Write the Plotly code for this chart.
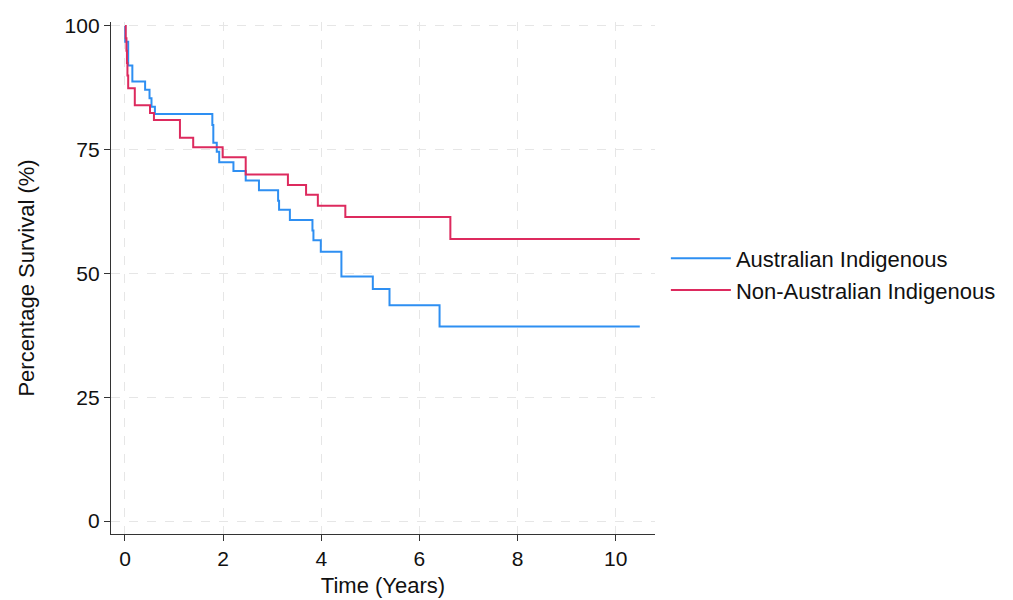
import plotly.graph_objects as go

# Australian Indigenous (blue) Kaplan-Meier steps
ai_time = [0.0, 0.005, 0.065, 0.15, 0.41, 0.50, 0.54, 0.61, 1.78, 1.80, 1.87, 1.92,
           2.21, 2.46, 2.73, 3.12, 3.14, 3.36, 3.82, 3.84, 3.99, 4.41, 5.05, 5.39,
           6.41, 10.49]
ai_surv = [100, 96.8, 92.0, 88.8, 87.1, 85.4, 83.7, 82.2, 80.0, 76.4, 74.6, 72.5,
           70.7, 68.8, 66.8, 64.7, 62.9, 60.8, 58.7, 56.7, 54.4, 49.4, 46.9, 43.6,
           39.3, 39.3]

# Non-Australian Indigenous (red) Kaplan-Meier steps
nai_time = [0.0, 0.015, 0.03, 0.04, 0.05, 0.065, 0.20, 0.51, 0.59, 1.12, 1.39, 1.99,
            2.46, 3.32, 3.69, 3.93, 4.49, 6.63, 10.49]
nai_surv = [100, 97.5, 95.0, 92.5, 90.0, 87.4, 84.0, 82.4, 81.0, 77.4, 75.5, 73.5,
            70.0, 67.9, 65.9, 63.7, 61.4, 57.0, 57.0]

x_ticks = [0, 2, 4, 6, 8, 10]
y_ticks = [0, 25, 50, 75, 100]

FONT = "Liberation Sans, Arial, Helvetica, sans-serif"
BLUE = "#2E8FF2"
RED = "#DD2A5E"
TXT = "#111111"

fig = go.Figure()
fig.add_trace(go.Scatter(x=ai_time, y=ai_surv, mode="lines", line_shape="hv",
                         name="Australian Indigenous",
                         line=dict(color=BLUE, width=2)))
fig.add_trace(go.Scatter(x=nai_time, y=nai_surv, mode="lines", line_shape="hv",
                         name="Non-Australian Indigenous",
                         line=dict(color=RED, width=2)))

axis_common = dict(
    showline=True, linecolor="#333333", linewidth=1.3,
    ticks="outside", ticklen=6, tickcolor="#333333", tickwidth=1.3,
    showgrid=True, gridcolor="#E6E6E6", griddash="dash", gridwidth=1.3,
    zeroline=False, mirror=False, automargin=False,
    tickfont=dict(family=FONT, size=21, color=TXT),
)

fig.update_xaxes(range=[-0.285, 10.8], tickvals=x_ticks,
                 title=dict(text="Time (Years)", font=dict(family=FONT, size=22, color=TXT),
                            standoff=8),
                 **axis_common)
fig.update_yaxes(range=[-2.6, 100.8], tickvals=y_ticks,
                 title=dict(text="Percentage Survival (%)", font=dict(family=FONT, size=22, color=TXT),
                            standoff=23),
                 **axis_common)

fig.update_layout(
    width=1013, height=600,
    margin=dict(l=103, r=366, t=14, b=74),
    plot_bgcolor="white", paper_bgcolor="white",
    font=dict(family=FONT, size=21, color=TXT),
    legend=dict(x=1.02, y=0.579, xanchor="left", yanchor="top",
                font=dict(family=FONT, size=22, color=TXT),
                itemwidth=60, bgcolor="rgba(0,0,0,0)"),
    showlegend=True,
)

fig.write_html("out.html")
